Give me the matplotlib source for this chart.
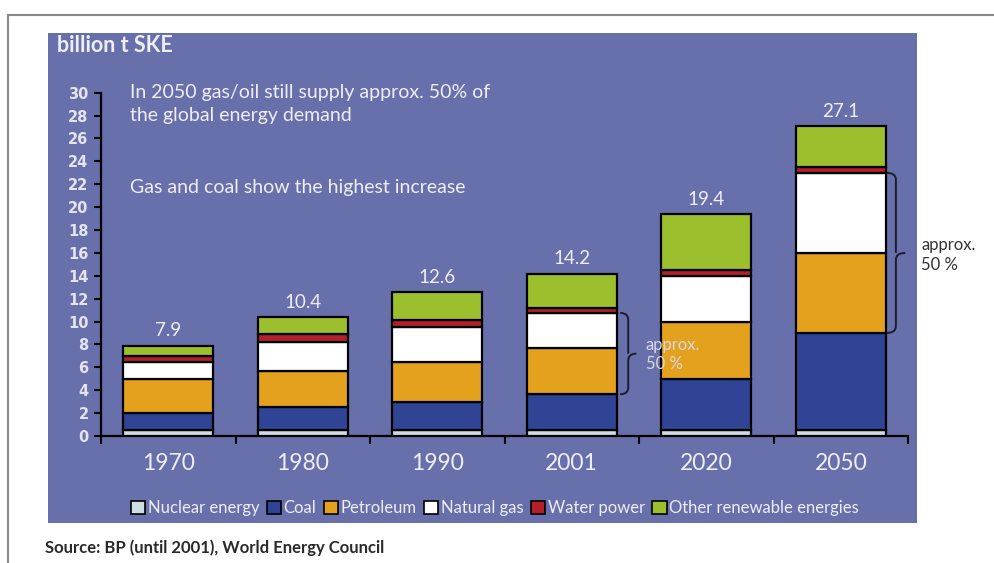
import matplotlib.pyplot as plt
import numpy as np
from matplotlib.patches import Rectangle, Patch, PathPatch
from matplotlib.lines import Line2D
from matplotlib.path import Path

years = ['1970', '1980', '1990', '2001', '2020', '2050']
totals = [7.9, 10.4, 12.6, 14.2, 19.4, 27.1]

nuclear = [0.5, 0.5, 0.5, 0.5, 0.5, 0.5]
coal = [1.5, 2.0, 2.5, 3.15, 4.5, 8.5]
petroleum = [3.0, 3.2, 3.5, 4.0, 5.0, 7.0]
natural_gas = [1.45, 2.55, 3.0, 3.1, 4.0, 7.0]
water_power = [0.5, 0.7, 0.6, 0.45, 0.5, 0.5]
other_renew = [0.95, 1.45, 2.5, 3.0, 4.9, 3.6]

series_names = ['Nuclear energy', 'Coal', 'Petroleum', 'Natural gas',
                'Water power', 'Other renewable energies']
series_colors = ['#cddde0', '#2f4494', '#e4a11e', '#ffffff', '#b3202a', '#9cbf2e']

PANEL = '#6870ac'
LIGHT = '#eeeef6'
FONT = ['Lato', 'DejaVu Sans']

W, H = 994, 563
fig = plt.figure(figsize=(W / 100, H / 100), dpi=100)
fig.patch.set_facecolor('white')


def fx(px):
    return px / W


def fy(py):
    return 1 - py / H


# frame lines and blue panel
fig.add_artist(Line2D([fx(8), 1], [fy(15), fy(15)], color='#8a8a8a', lw=1.5))
fig.add_artist(Line2D([fx(8), fx(8)], [fy(15), 0], color='#8a8a8a', lw=1.5))
fig.add_artist(Rectangle((fx(48), fy(523)), fx(917) - fx(48), fy(33) - fy(523),
                         transform=fig.transFigure, facecolor=PANEL,
                         edgecolor='none', zorder=0))

ax = fig.add_axes([fx(101), fy(436), fx(908) - fx(101), fy(92.7) - fy(436)])
ax.patch.set_visible(False)
ax.set_xlim(-0.5, 5.5)
ax.set_ylim(0, 30)

x = np.arange(len(years))
stack = [nuclear, coal, petroleum, natural_gas, water_power, other_renew]
bottom = np.zeros(len(years))
tops = []
for vals, col in zip(stack, series_colors):
    vals = np.array(vals)
    ax.bar(x, vals, bottom=bottom, width=0.67, color=col,
           edgecolor='black', linewidth=1.6, zorder=3)
    bottom = bottom + vals
    tops.append(bottom.copy())

for xi, t in zip(x, totals):
    ax.text(xi, t + 0.55, f'{t:.1f}', ha='center', va='bottom',
            color=LIGHT, fontsize=13.5, family=FONT)

# axes styling
for s in ['top', 'right']:
    ax.spines[s].set_visible(False)
for s in ['left', 'bottom']:
    ax.spines[s].set_linewidth(1.6)
    ax.spines[s].set_color('black')
ax.set_yticks(np.arange(0, 31, 2))
ax.tick_params(axis='y', direction='out', length=5, width=1.5,
               labelcolor='#e4e4ee', labelsize=10.5, pad=4)
for lab in ax.get_yticklabels():
    lab.set_fontfamily('DejaVu Sans')
    lab.set_fontweight('semibold')
ax.set_xticks(x)
ax.set_xticklabels(years, family=FONT)
ax.set_xticks(np.arange(-0.5, 6, 1), minor=True)
ax.tick_params(axis='x', which='major', length=0, labelcolor=LIGHT,
               labelsize=16.5, pad=12)
ax.tick_params(axis='x', which='minor', direction='out', length=6, width=1.5)


def brace(ax, x0, y0, y1, depth, color):
    ym = (y0 + y1) / 2
    r = 0.6
    xm = x0 + depth * 0.5
    verts = [(x0, y0), (xm, y0), (xm, y0 + r),
             (xm, ym - r),
             (xm, ym), (x0 + depth, ym),
             (xm, ym), (xm, ym + r),
             (xm, y1 - r),
             (xm, y1), (x0, y1)]
    codes = [Path.MOVETO, Path.CURVE3, Path.CURVE3,
             Path.LINETO,
             Path.CURVE3, Path.CURVE3,
             Path.MOVETO, Path.CURVE3,
             Path.LINETO,
             Path.CURVE3, Path.CURVE3]
    ax.add_patch(PathPatch(Path(verts, codes), facecolor='none',
                           edgecolor=color, lw=1.4, zorder=4, clip_on=False))


# gas + oil share brackets
brace(ax, 3.36, tops[1][3], tops[3][3], 0.12, '#1c1c2c')
ax.text(3.55, (tops[1][3] + tops[3][3]) / 2 - 0.1, 'approx.\n50 %', ha='left',
        va='center', color='#d8d8e2', fontsize=12, family=FONT,
        linespacing=1.25, zorder=5)
brace(ax, 5.34, tops[1][5], tops[3][5], 0.14, '#1c1c2c')
ax.text(5.6, (tops[1][5] + tops[3][5]) / 2 - 0.2, 'approx.\n50 %', ha='left',
        va='center', color='#333333', fontsize=12, family=FONT,
        linespacing=1.35, clip_on=False)

fig.text(fx(57), fy(46), 'billion t SKE', color=LIGHT, fontsize=15.5,
         weight='bold', family=FONT, va='center')
fig.text(fx(130), fy(104), 'In 2050 gas/oil still supply approx. 50% of\n'
         'the global energy demand', color=LIGHT, fontsize=14,
         family=FONT, va='center', linespacing=1.45)
fig.text(fx(130), fy(188), 'Gas and coal show the highest increase',
         color=LIGHT, fontsize=14, family=FONT, va='center')

handles = [Patch(facecolor=c, edgecolor='black', linewidth=1.2)
           for c in series_colors]
fig.legend(handles, series_names, loc='center', ncol=6,
           bbox_to_anchor=(fx(495), fy(508)), frameon=False,
           handlelength=0.85, handleheight=0.85, handletextpad=0.15,
           columnspacing=0.45, labelcolor=LIGHT,
           prop={'family': FONT, 'size': 12})

fig.text(fx(45), fy(548), 'Source: BP (until 2001), World Energy Council',
         color='#2a2a2a', fontsize=12, weight='bold', family=FONT,
         va='center')

fig.savefig('out.png', dpi=100)
